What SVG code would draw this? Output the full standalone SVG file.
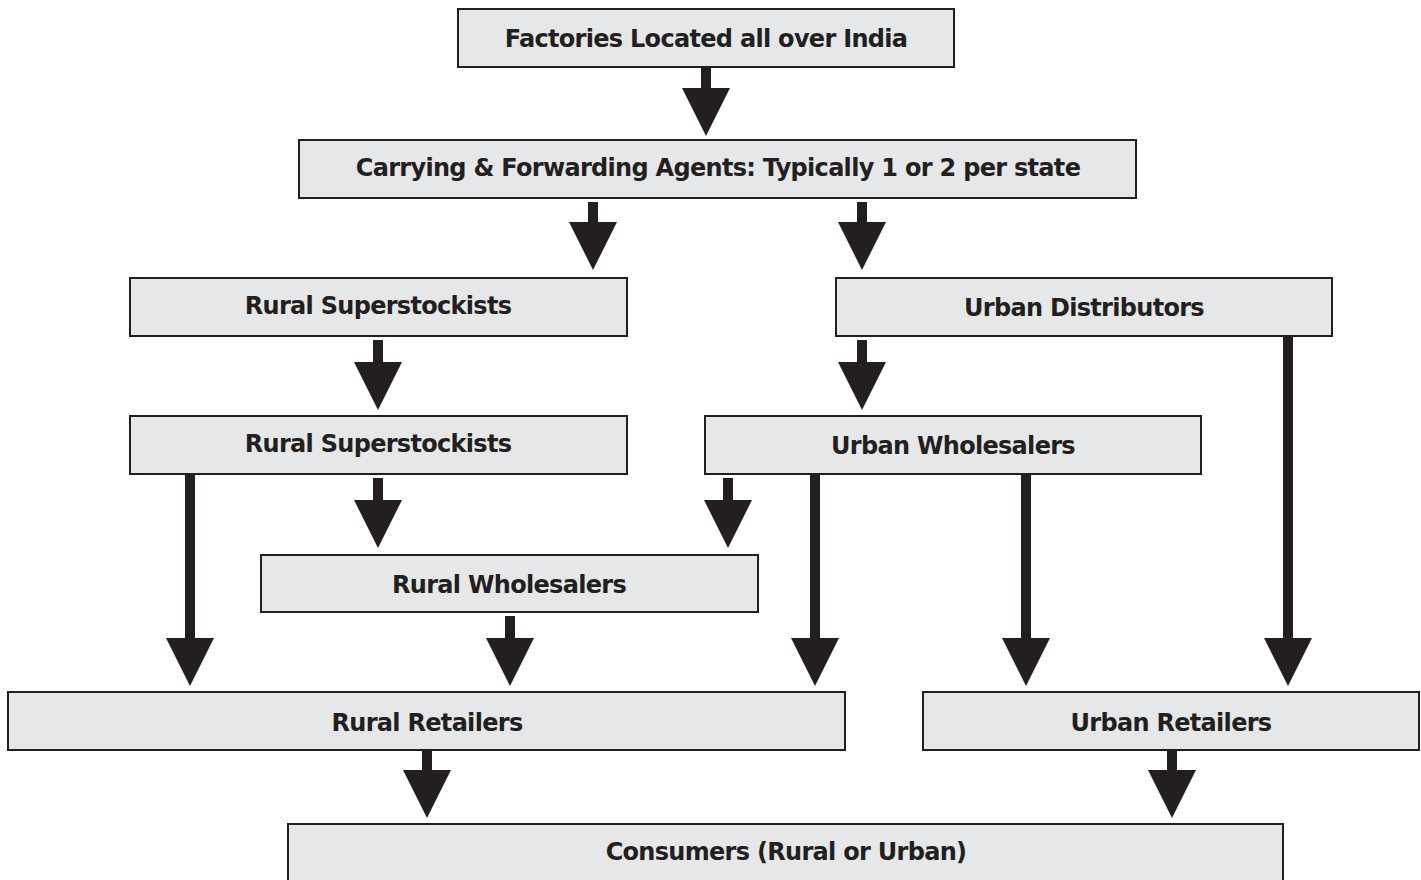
<svg xmlns="http://www.w3.org/2000/svg" width="1421" height="880" viewBox="0 0 1421 880">
<defs>
<style>
.box{fill:#e6e7e8;stroke:#231f20;stroke-width:2}
.lbl{font-family:"DejaVu Sans",Verdana,sans-serif;font-weight:bold;font-size:24px;letter-spacing:-0.7px;fill:#231f20;text-anchor:middle}
.shaft{stroke:#231f20;stroke-width:10;fill:none}
.head{fill:#231f20}
</style>
<symbol id="ah" overflow="visible"><polygon points="-24,0 24,0 0,48"/></symbol>
</defs>
<rect width="1421" height="880" fill="#ffffff"/>
<g id="connectors" class="head">
<line class="shaft" x1="706" y1="67" x2="706" y2="90"/><use href="#ah" x="706" y="88"/>
<line class="shaft" x1="593" y1="202" x2="593" y2="224"/><use href="#ah" x="593" y="222"/>
<line class="shaft" x1="862" y1="202" x2="862" y2="224"/><use href="#ah" x="862" y="222"/>
<line class="shaft" x1="378" y1="340" x2="378" y2="364"/><use href="#ah" x="378" y="362"/>
<line class="shaft" x1="862" y1="340" x2="862" y2="364"/><use href="#ah" x="862" y="362"/>
<line class="shaft" x1="1288" y1="336" x2="1288" y2="640"/><use href="#ah" x="1288" y="638"/>
<line class="shaft" x1="190" y1="474" x2="190" y2="640"/><use href="#ah" x="190" y="638"/>
<line class="shaft" x1="378" y1="478" x2="378" y2="502"/><use href="#ah" x="378" y="500"/>
<line class="shaft" x1="728" y1="478" x2="728" y2="502"/><use href="#ah" x="728" y="500"/>
<line class="shaft" x1="815" y1="474" x2="815" y2="640"/><use href="#ah" x="815" y="638"/>
<line class="shaft" x1="1026" y1="474" x2="1026" y2="640"/><use href="#ah" x="1026" y="638"/>
<line class="shaft" x1="510" y1="616" x2="510" y2="640"/><use href="#ah" x="510" y="638"/>
<line class="shaft" x1="427" y1="750" x2="427" y2="772"/><use href="#ah" x="427" y="770"/>
<line class="shaft" x1="1172" y1="750" x2="1172" y2="772"/><use href="#ah" x="1172" y="770"/>
</g>
<g id="factories"><rect class="box" x="458" y="9" width="496" height="58"/><text class="lbl" x="706" y="47">Factories Located all over India</text></g>
<g id="cfa"><rect class="box" x="299" y="140" width="837" height="58"/><text class="lbl" x="718" y="176">Carrying &amp; Forwarding Agents: Typically 1 or 2 per state</text></g>
<g id="rural-super-1"><rect class="box" x="130" y="278" width="497" height="58"/><text class="lbl" x="378" y="314">Rural Superstockists</text></g>
<g id="urban-dist"><rect class="box" x="836" y="278" width="496" height="58"/><text class="lbl" x="1084" y="316">Urban Distributors</text></g>
<g id="rural-super-2"><rect class="box" x="130" y="416" width="497" height="58"/><text class="lbl" x="378" y="452">Rural Superstockists</text></g>
<g id="urban-wholesalers"><rect class="box" x="705" y="416" width="496" height="58"/><text class="lbl" x="953" y="454">Urban Wholesalers</text></g>
<g id="rural-wholesalers"><rect class="box" x="261" y="555" width="497" height="57"/><text class="lbl" x="509" y="593">Rural Wholesalers</text></g>
<g id="rural-retailers"><rect class="box" x="8" y="692" width="837" height="58"/><text class="lbl" x="427" y="731">Rural Retailers</text></g>
<g id="urban-retailers"><rect class="box" x="923" y="692" width="496" height="58"/><text class="lbl" x="1171" y="731">Urban Retailers</text></g>
<g id="consumers"><rect class="box" x="288" y="824" width="995" height="70"/><text class="lbl" x="786" y="860">Consumers (Rural or Urban)</text></g>
</svg>
